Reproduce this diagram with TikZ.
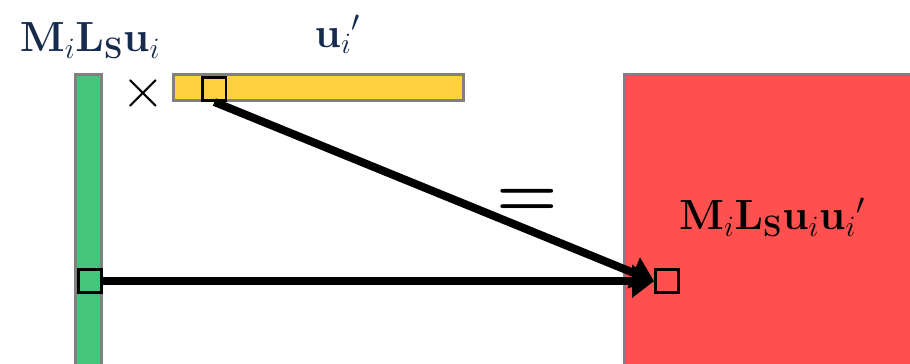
\documentclass[tikz,border=0pt]{standalone}
\usepackage{fix-cm}
\usepackage{amsmath}
\usepackage{tikz}
\usetikzlibrary{arrows.meta}
\definecolor{barGreen}{RGB}{69,196,124}
\definecolor{barYellow}{RGB}{255,208,64}
\definecolor{barRed}{RGB}{255,80,80}
\definecolor{navy}{RGB}{23,43,77}
\tikzset{
    bar/.style={draw=gray, line width=2.1pt},
    cell/.style={draw=black, line width=2pt, minimum size=0.58cm, inner sep=0pt},
    link/.style={line width=5.7pt, -{Triangle[length=0.55cm,width=0.8cm]}},
    label/.style={font=\fontsize{30}{36}\selectfont, inner sep=0pt}
}
\begin{document}
\begin{tikzpicture}
        \clip (0,0) rectangle (22.75,9.1);
        % the three matrices
        \draw[bar, fill=barGreen] (1.89,-0.5) rectangle (2.54,7.24);
        \draw[bar, fill=barYellow] (4.34,6.59) rectangle (11.59,7.24);
        \draw[bar, fill=barRed] (15.61,-0.5) rectangle (23.5,7.24);
        % picked entries
        \node[cell] (gsq) at (2.25,2.07) {};
        \node[cell] (ysq) at (5.36,6.875) {};
        \node[cell] (rsq) at (16.675,2.07) {};
        \node[label, text=navy, anchor=base] (lefttxt) at (2.25,7.8) {$\mathbf{M}_i\mathbf{L}_{\mathbf{S}}\mathbf{u}_i$};
        \node[label, text=navy, anchor=base] (toptxt) at (8.44,7.92) {$\mathbf{u}_i{}'$};
        \node[label, anchor=base] (prodtxt) at (19.3,3.35) {$\mathbf{M}_i\mathbf{L}_{\mathbf{S}}\mathbf{u}_i\mathbf{u}_i{}'$};
        \node[font=\fontsize{40}{44}\selectfont, inner sep=0pt] (times) at (3.575,6.775) {$\times$};
        \node[font=\fontsize{50}{56}\selectfont\boldmath, inner sep=0pt] (equal) at (13.175,4.02) {$=$};
        \draw[link] (gsq.east) -- (rsq.west);
        \draw[link] (ysq.south) -- (rsq.west);
\end{tikzpicture}
\end{document}
